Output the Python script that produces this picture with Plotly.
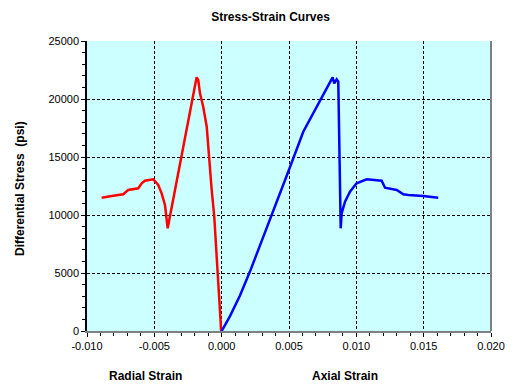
import plotly.graph_objects as go

# Radial strain (red), ordered from start of test
radial_strain = [0.0, -0.00005, -0.00007, -0.00018, -0.00025, -0.00037, -0.00055, -0.00074,
                 -0.00094, -0.00111, -0.00137, -0.00161, -0.00174, -0.00186,
                 -0.00401, -0.00421, -0.00446, -0.00471, -0.00508, -0.0057, -0.00594,
                 -0.00619, -0.00694, -0.00731, -0.00817, -0.00891]
radial_stress = [0, 86, 664, 2672, 4397, 6983, 9853, 12155,
                 15026, 17612, 19336, 20491, 21638, 21871,
                 8853, 10862, 11871, 12586, 13078, 12957, 12733,
                 12302, 12155, 11784, 11638, 11491]

# Axial strain (blue)
axial_strain = [0.0, 0.00062, 0.00136, 0.0021, 0.00284, 0.00309, 0.00495, 0.00606, 0.0073,
                0.0078, 0.00824, 0.00836, 0.00854, 0.00866, 0.00884, 0.00891, 0.00916,
                0.00953, 0.01002, 0.01077, 0.01188, 0.01213, 0.013, 0.01349, 0.01386,
                0.01497, 0.01608]
axial_stress = [0, 1284, 3052, 5121, 7362, 8103, 13750, 17181, 19914,
                20922, 21871, 21353, 21698, 21491, 8853, 10147, 11147,
                12009, 12733, 13078, 12957, 12353, 12155, 11784, 11724,
                11638, 11491]

x_ticks = [-0.010, -0.005, 0.000, 0.005, 0.010, 0.015, 0.020]
x_tick_text = ["-0.010", "-0.005", "0.000", "0.005", "0.010", "0.015", "0.020"]
y_ticks = [0, 5000, 10000, 15000, 20000, 25000]
y_tick_text = ["0", "5000", "10000", "15000", "20000", "25000"]

FONT = "Arial, Liberation Sans, sans-serif"

fig = go.Figure()
fig.add_trace(go.Scatter(x=radial_strain, y=radial_stress, mode="lines",
                         line=dict(color="#FF0000", width=2.5), showlegend=False,
                         hoverinfo="skip"))
fig.add_trace(go.Scatter(x=axial_strain, y=axial_stress, mode="lines",
                         line=dict(color="#0000FF", width=2.5), showlegend=False,
                         hoverinfo="skip"))

fig.update_layout(
    width=515, height=387,
    margin=dict(l=87, r=24, t=41, b=56, autoexpand=False),
    paper_bgcolor="white", plot_bgcolor="#CCFFFF",
    font=dict(family=FONT, size=11, color="black"),
    title=dict(text="<b>Stress-Strain Curves</b>", x=270.5 / 515, xanchor="center",
               y=1 - 17 / 387, yanchor="middle", font=dict(size=12, family=FONT)),
    xaxis=dict(range=[-0.010, 0.020], tickvals=x_ticks, ticktext=x_tick_text,
               showgrid=True, gridcolor="black", griddash="3px,2px", gridwidth=1,
               zeroline=False, showline=True, linecolor="#808080", linewidth=2,
               ticks="outside", ticklen=4, tickcolor="black", automargin=False,
               minor=dict(dtick=0.001, ticks="outside", ticklen=3, tickcolor="black", showgrid=False),
               tickfont=dict(size=11, family=FONT)),
    yaxis=dict(range=[0, 25000], tickvals=y_ticks, ticktext=y_tick_text,
               showgrid=True, gridcolor="black", griddash="3px,2px", gridwidth=1,
               zeroline=False, showline=True, linecolor="black", linewidth=1.5,
               ticks="outside", ticklen=4, tickcolor="black", automargin=False,
               minor=dict(dtick=1000, ticks="outside", ticklen=3, tickcolor="black", showgrid=False),
               tickfont=dict(size=11, family=FONT)),
    shapes=[dict(type="line", xref="paper", yref="paper", x0=1, x1=1, y0=0, y1=1,
                 line=dict(color="#808080", width=2), layer="above")],
    annotations=[
        dict(text="<b>Differential Stress  (psi)</b>", xref="paper", yref="paper",
             x=-(87 - 20) / 404, y=(331 - 189) / 290, textangle=-90,
             xanchor="center", yanchor="middle", showarrow=False,
             font=dict(size=12, family=FONT)),
        dict(text="<b>Radial Strain</b>", xref="paper", yref="paper", x=(145 - 87) / 404,
             y=-(376 - 331) / 290, xanchor="center", yanchor="middle", showarrow=False,
             font=dict(size=12, family=FONT)),
        dict(text="<b>Axial Strain</b>", xref="paper", yref="paper", x=(345 - 87) / 404,
             y=-(376 - 331) / 290, xanchor="center", yanchor="middle", showarrow=False,
             font=dict(size=12, family=FONT)),
    ],
)

fig.write_html("out.html", config={"displayModeBar": False},
               post_script="document.body.style.margin='0';")
